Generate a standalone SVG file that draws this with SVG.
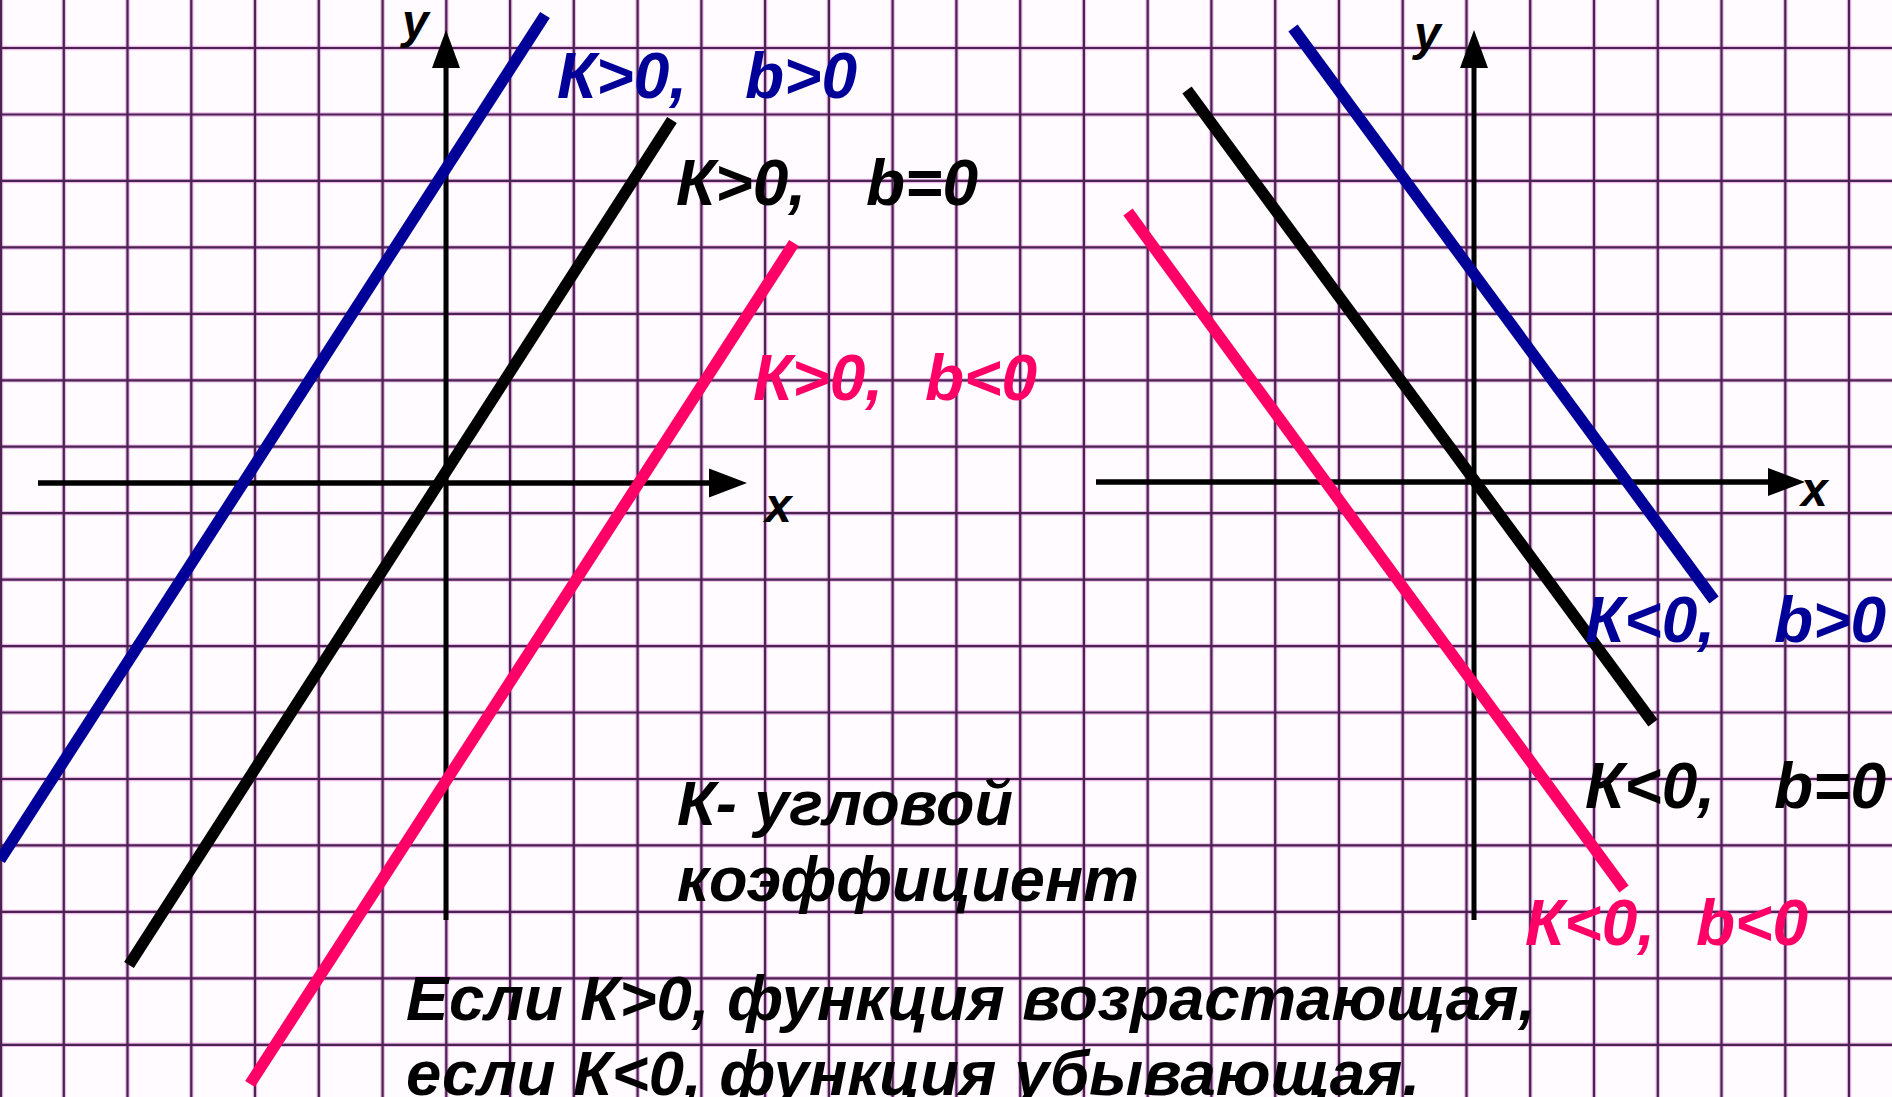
<svg xmlns="http://www.w3.org/2000/svg" width="1892" height="1097" viewBox="0 0 1892 1097">
<style>
.bg{fill:#fffbff}
.gh{fill:none;stroke:#d67ad6;stroke-width:4.5;stroke-opacity:0.5}
.gc{fill:none;stroke:#4a2350;stroke-width:2.2}
.ax{stroke:#000;fill:none}
.ah{fill:#000}
.ln{fill:none;stroke-width:11.5;stroke-linecap:butt}
.blue{stroke:#000099}
.blk{stroke:#000000}
.pink{stroke:#ff0066}
.t{font-family:"Liberation Sans",Arial,sans-serif;font-weight:bold;font-style:italic}
.lbl{font-size:64px}
.axl{font-size:48px;fill:#000}
.big{font-size:63px;fill:#000}
.cb{fill:#000099}
.ck{fill:#000000}
.cp{fill:#ff0066}
</style>
<rect class="bg" x="0" y="0" width="1892" height="1097"/>
<g id="grid">
<path id="grid-v-halo" class="gh" d="M1,0V1097M63.8,0V1097M127.5,0V1097M191.3,0V1097M255,0V1097M318.8,0V1097M382.6,0V1097M446.3,0V1097M510.1,0V1097M573.8,0V1097M637.6,0V1097M701.4,0V1097M765.1,0V1097M828.9,0V1097M892.6,0V1097M956.4,0V1097M1020.2,0V1097M1083.9,0V1097M1147.7,0V1097M1211.4,0V1097M1275.2,0V1097M1339,0V1097M1402.7,0V1097M1466.5,0V1097M1530.2,0V1097M1594,0V1097M1657.8,0V1097M1721.5,0V1097M1785.3,0V1097M1849,0V1097"/>
<path id="grid-h-halo" class="gh" d="M0,48H1892M0,114.5H1892M0,180.9H1892M0,247.4H1892M0,313.8H1892M0,380.3H1892M0,446.7H1892M0,513.2H1892M0,579.6H1892M0,646.1H1892M0,712.5H1892M0,779H1892M0,845.4H1892M0,911.9H1892M0,978.3H1892M0,1044.8H1892"/>
<path id="grid-v" class="gc" d="M1,0V1097M63.8,0V1097M127.5,0V1097M191.3,0V1097M255,0V1097M318.8,0V1097M382.6,0V1097M446.3,0V1097M510.1,0V1097M573.8,0V1097M637.6,0V1097M701.4,0V1097M765.1,0V1097M828.9,0V1097M892.6,0V1097M956.4,0V1097M1020.2,0V1097M1083.9,0V1097M1147.7,0V1097M1211.4,0V1097M1275.2,0V1097M1339,0V1097M1402.7,0V1097M1466.5,0V1097M1530.2,0V1097M1594,0V1097M1657.8,0V1097M1721.5,0V1097M1785.3,0V1097M1849,0V1097"/>
<path id="grid-h" class="gc" d="M0,48H1892M0,114.5H1892M0,180.9H1892M0,247.4H1892M0,313.8H1892M0,380.3H1892M0,446.7H1892M0,513.2H1892M0,579.6H1892M0,646.1H1892M0,712.5H1892M0,779H1892M0,845.4H1892M0,911.9H1892M0,978.3H1892M0,1044.8H1892"/>
</g>
<g id="left-axes">
<line class="ax" x1="446" y1="920" x2="446" y2="66" stroke-width="5"/>
<polygon class="ah" points="446,30 432,68 460,68"/>
<line class="ax" x1="38" y1="483" x2="711" y2="483" stroke-width="5.5"/>
<polygon class="ah" points="747,483 709,468.5 709,497.5"/>
<text class="t axl" x="402" y="38">y</text>
<text class="t axl" x="765" y="522">x</text>
</g>
<g id="right-axes">
<line class="ax" x1="1474" y1="920" x2="1474" y2="66" stroke-width="5"/>
<polygon class="ah" points="1474,30 1460,68 1488,68"/>
<line class="ax" x1="1096" y1="482" x2="1770" y2="482" stroke-width="5.5"/>
<polygon class="ah" points="1805,482 1768,468 1768,496"/>
<text class="t axl" x="1414" y="50">y</text>
<text class="t axl" x="1801" y="506">x</text>
</g>
<g id="connectors">
<line id="l-kpos-bpos" class="ln blue" x1="545" y1="15" x2="0" y2="860"/>
<line id="l-kpos-b0" class="ln blk" x1="672" y1="120" x2="129" y2="965"/>
<line id="l-kpos-bneg" class="ln pink" x1="794" y1="243" x2="250" y2="1084"/>
<line id="l-kneg-bpos" class="ln blue" x1="1293" y1="28" x2="1714" y2="600"/>
<line id="l-kneg-b0" class="ln blk" x1="1187" y1="90" x2="1653" y2="723"/>
<line id="l-kneg-bneg" class="ln pink" x1="1128" y1="212" x2="1624" y2="889"/>
</g>
<g id="label-kpos-bpos"><text class="t lbl cb" x="557" y="98" xml:space="preserve">К&gt;0,   <tspan x="745">b&gt;0</tspan></text></g>
<g id="label-kpos-b0"><text class="t lbl ck" x="676" y="205" xml:space="preserve">К&gt;0,   <tspan x="866">b=0</tspan></text></g>
<g id="label-kpos-bneg"><text class="t lbl cp" x="753" y="400" xml:space="preserve">К&gt;0,  <tspan x="925">b&lt;0</tspan></text></g>
<g id="label-kneg-bpos"><text class="t lbl cb" x="1585" y="642" xml:space="preserve">К&lt;0,   <tspan x="1774">b&gt;0</tspan></text></g>
<g id="label-kneg-b0"><text class="t lbl ck" x="1585" y="808" xml:space="preserve">К&lt;0,   <tspan x="1774">b=0</tspan></text></g>
<g id="label-kneg-bneg"><text class="t lbl cp" x="1525" y="945" xml:space="preserve">К&lt;0,  <tspan x="1696">b&lt;0</tspan></text></g>
<g id="note-k">
<text class="t big" x="677" y="825" textLength="336" lengthAdjust="spacingAndGlyphs">К- угловой</text>
<text class="t big" x="677" y="901" textLength="462" lengthAdjust="spacingAndGlyphs">коэффициент</text>
</g>
<g id="note-sign">
<text class="t big" x="406" y="1020" textLength="1130" lengthAdjust="spacingAndGlyphs">Если К&gt;0, функция возрастающая,</text>
<text class="t big" x="406" y="1095" textLength="1014" lengthAdjust="spacingAndGlyphs">если К&lt;0, функция убывающая.</text>
</g>
</svg>
